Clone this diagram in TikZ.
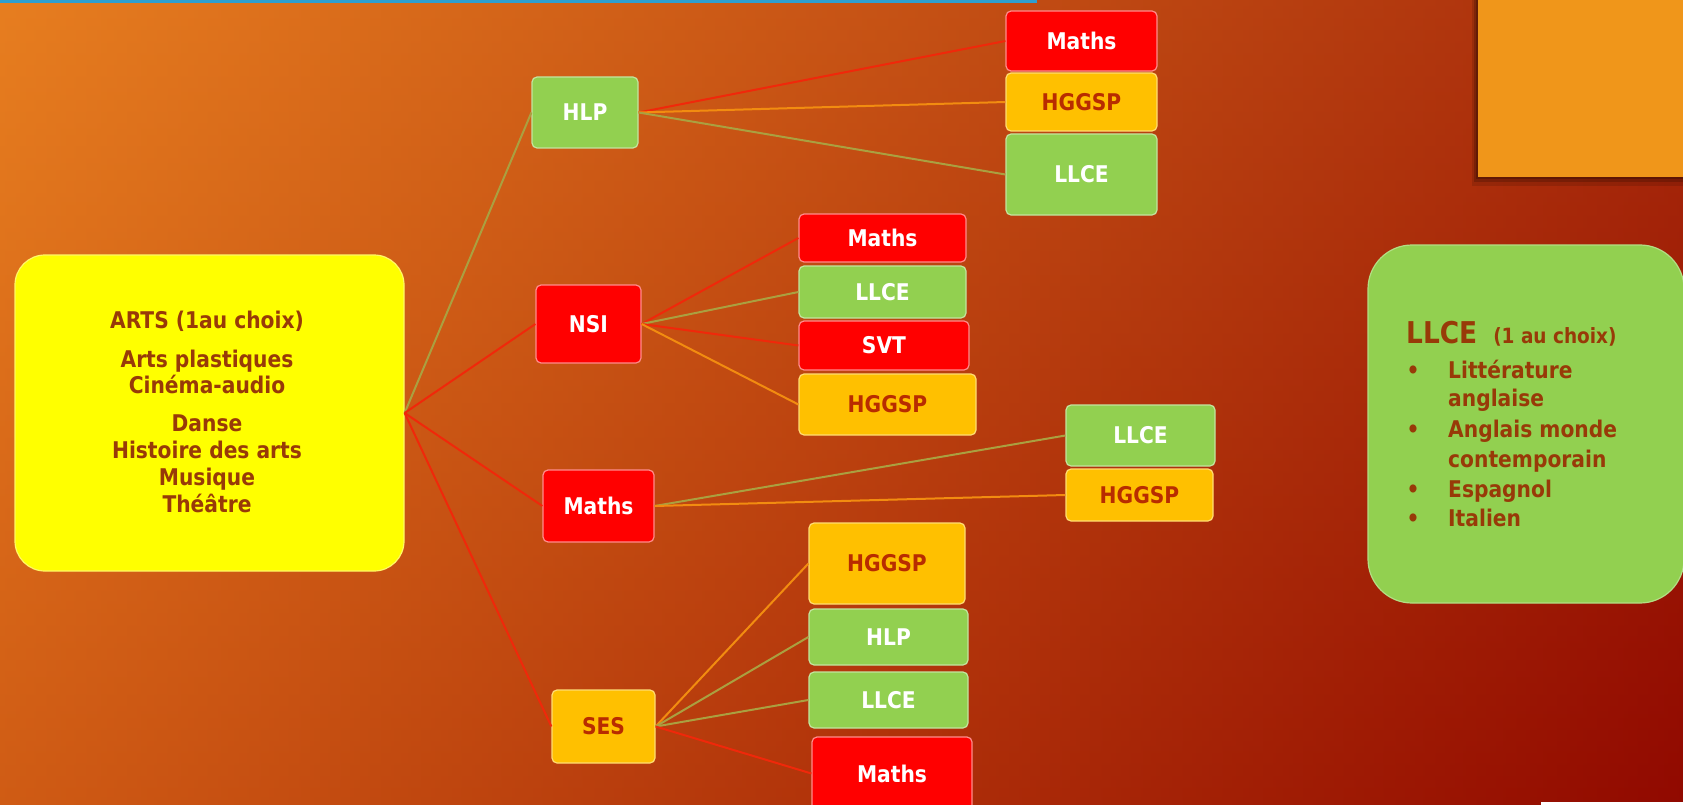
\documentclass[tikz,border=0pt]{standalone}
\usepackage{fontspec}
\setmainfont{DejaVu Sans}[FakeStretch=0.88]
\definecolor{hL}{RGB}{238,168,42}
\definecolor{hR}{RGB}{112,2,0}
\definecolor{vT}{RGB}{225,85,22}
\definecolor{vB}{RGB}{178,16,0}
\definecolor{cRed}{RGB}{255,0,0}
\definecolor{cYel}{RGB}{255,192,0}
\definecolor{cGrn}{RGB}{146,208,80}
\definecolor{cArts}{RGB}{255,255,0}
\definecolor{tBrown}{RGB}{152,58,8}
\definecolor{tYel}{RGB}{184,44,0}
\definecolor{lRed}{RGB}{240,40,10}
\definecolor{lOra}{RGB}{242,140,16}
\definecolor{lOli}{RGB}{170,160,64}
\definecolor{cBlue}{RGB}{46,159,208}
\definecolor{cOrBox}{RGB}{240,150,26}
\begin{document}
\begin{tikzpicture}[x=1pt,y=-1pt,
  nb/.style={rounded corners=5pt, line width=1.2pt, inner sep=0pt, font=\bfseries\fontsize{23}{27}\selectfont},
  rn/.style={nb, fill=cRed, draw=red!45!white, text=white},
  yn/.style={nb, fill=cYel, draw=cYel!55!white, text=tYel},
  gn/.style={nb, fill=cGrn, draw=cGrn!55!white, text=white},
  artsline/.style={anchor=base, text=tBrown, inner sep=0pt, font=\bfseries\fontsize{23}{27}\selectfont},
  llline/.style={anchor=base west, text=tBrown, inner sep=0pt, font=\bfseries\fontsize{23}{27}\selectfont},
  cr/.style={draw=lRed, line width=2pt},
  co/.style={draw=lOra, line width=2pt},
  cl/.style={draw=lOli, line width=2pt}
]
\useasboundingbox (0,0) rectangle (1683,805);
% background
\shade[left color=hL, right color=hR] (0,0) rectangle (1683,805);
\shade[top color=vT, bottom color=vB, opacity=0.5] (0,0) rectangle (1683,805);
\fill[cBlue] (0,0) rectangle (1037,3);
% orange box top right with shadow
\fill[black, opacity=0.12] (1472,0) rectangle (1683,186);
\fill[black, opacity=0.18] (1474,0) rectangle (1683,182);
\fill[black, opacity=0.2] (1476,0) rectangle (1683,179);
\fill[cOrBox] (1478,0) rectangle (1683,177);
\fill[white] (1541,802) rectangle (1683,805);

% ARTS box
\node[rounded corners=30pt, fill=cArts, draw=yellow!60!white, line width=1.2pt, minimum width=389pt, minimum height=316pt, inner sep=0pt] (arts) at (209.5,413) {};
\node[artsline] (a1) at (207,328) {ARTS (1au choix)};
\node[artsline] (a2) at (207,367) {Arts plastiques};
\node[artsline] (a3) at (207,393) {Cinéma-audio};
\node[artsline] (a4) at (207,431) {Danse};
\node[artsline] (a5) at (207,458) {Histoire des arts};
\node[artsline] (a6) at (207,485) {Musique};
\node[artsline] (a7) at (207,512) {Théâtre};

% LLCE box right
\node[rounded corners=44pt, fill=cGrn, draw=cGrn!70!white, line width=1.2pt, minimum width=316pt, minimum height=358pt, inner sep=0pt] (llbox) at (1526,424) {};
\node[llline] (l0) at (1406,343) {\fontsize{30}{30}\selectfont LLCE\hspace{16pt}\fontsize{21}{21}\selectfont (1 au choix)};
\node[llline] (l1) at (1448,378) {Littérature};
\node[llline] (l2) at (1448,406) {anglaise};
\node[llline] (l3) at (1448,437) {Anglais monde};
\node[llline] (l4) at (1448,467) {contemporain};
\node[llline] (l5) at (1448,497) {Espagnol};
\node[llline] (l6) at (1448,526) {Italien};
\node[llline, anchor=base] (b1) at (1413,378) {•};
\node[llline, anchor=base] (b2) at (1413,437) {•};
\node[llline, anchor=base] (b3) at (1413,497) {•};
\node[llline, anchor=base] (b4) at (1413,526) {•};

% level 1
\node[gn, minimum width=106pt, minimum height=71pt] (hlp) at (585,112.5) {HLP};
\node[rn, minimum width=105pt, minimum height=78pt] (nsi) at (588.5,324) {NSI};
\node[rn, minimum width=111pt, minimum height=72pt] (mat) at (598.5,506) {Maths};
\node[yn, minimum width=103pt, minimum height=73pt] (ses) at (603.5,726.5) {SES};

% HLP branch
\node[rn, minimum width=151pt, minimum height=60pt] (h1) at (1081.5,41) {Maths};
\node[yn, minimum width=151pt, minimum height=58pt] (h2) at (1081.5,102) {HGGSP};
\node[gn, minimum width=151pt, minimum height=81pt] (h3) at (1081.5,174.5) {LLCE};

% NSI branch
\node[rn, minimum width=167pt, minimum height=48pt] (n1) at (882.5,238) {Maths};
\node[gn, minimum width=167pt, minimum height=52pt] (n2) at (882.5,292) {LLCE};
\node[rn, minimum width=170pt, minimum height=49pt] (n3) at (884,345.5) {SVT};
\node[yn, minimum width=177pt, minimum height=61pt] (n4) at (887.5,404.5) {HGGSP};

% Maths branch
\node[gn, minimum width=149pt, minimum height=61pt] (m1) at (1140.5,435.5) {LLCE};
\node[yn, minimum width=147pt, minimum height=52pt] (m2) at (1139.5,495) {HGGSP};

% SES branch
\node[yn, minimum width=156pt, minimum height=81pt] (s1) at (887,563.5) {HGGSP};
\node[gn, minimum width=159pt, minimum height=56pt] (s2) at (888.5,637) {HLP};
\node[gn, minimum width=159pt, minimum height=56pt] (s3) at (888.5,700) {LLCE};
\node[rn, minimum width=160pt, minimum height=73pt] (s4) at (892,773.5) {Maths};

% connectors
\draw[cl] (arts.east) -- (hlp.west);
\draw[cr] (arts.east) -- (nsi.west);
\draw[cr] (arts.east) -- (mat.west);
\draw[cr] (arts.east) -- (ses.west);

\draw[cr] (hlp.east) -- (h1.west);
\draw[co] (hlp.east) -- (h2.west);
\draw[cl] (hlp.east) -- (h3.west);

\draw[cr] (nsi.east) -- (n1.west);
\draw[cl] (nsi.east) -- (n2.west);
\draw[cr] (nsi.east) -- (n3.west);
\draw[co] (nsi.east) -- (n4.west);

\draw[cl] (mat.east) -- (m1.west);
\draw[co] (mat.east) -- (m2.west);

\draw[co] (ses.east) -- (s1.west);
\draw[cl] (ses.east) -- (s2.west);
\draw[cl] (ses.east) -- (s3.west);
\draw[cr] (ses.east) -- (s4.west);
\end{tikzpicture}
\end{document}
